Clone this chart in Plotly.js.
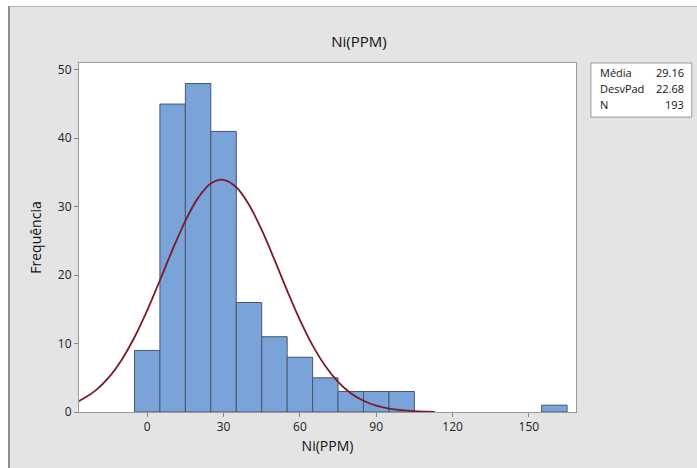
<!DOCTYPE html>
<html>
<head>
<meta charset="utf-8">
<script src="https://cdn.plot.ly/plotly-3.0.1.min.js"></script>
<style>
  html, body { margin: 0; padding: 0; background: #ffffff; width: 697px; height: 468px; overflow: hidden; }
  #frame { position: absolute; left: 8px; top: 6px; width: 687px; height: 462px;
           border-left: 2px solid #8c8c8c; border-top: 1px solid #b4b4b4; background: #e4e4e4; }
  #chart { width: 687px; height: 462px; }
</style>
</head>
<body>
<div id="frame"><div id="chart"></div></div>
<script>
// Histogram bins (bin centres, width 10) and counts
const binCenters = [0, 10, 20, 30, 40, 50, 60, 70, 80, 90, 100, 160];
const counts     = [9, 45, 48, 41, 16, 11, 8, 5, 3, 3, 3, 1];

// Fitted normal curve
const curveX = [-27, -25, -20, -15, -10, -5, 0, 5, 10, 15, 20, 25, 30, 35, 40, 45, 50, 55, 60, 65, 70, 75, 80, 85, 90, 95, 100, 105, 110, 113];
const curveY = [1.58, 1.96, 3.24, 5.10, 7.65, 10.92, 14.85, 19.25, 23.76, 27.94, 31.29, 33.38, 33.93, 32.84, 30.29, 26.60, 22.26, 17.74, 13.47, 9.74, 6.71, 4.40, 2.75, 1.64, 0.93, 0.50, 0.26, 0.13, 0.06, 0.03];

// Summary table
const statLabels = ["Média", "DesvPad", "N"];
const statValues = ["29.16", "22.68", "193"];

const xTicks = [0, 30, 60, 90, 120, 150];
const yTicks = [0, 10, 20, 30, 40, 50];

const FONT = "Open Sans, Noto Sans, sans-serif";

const traces = [
  {
    type: "bar",
    x: binCenters,
    y: counts,
    width: 10,
    marker: { color: "#7aa4d9", line: { color: "#46586c", width: 1 } },
    hoverinfo: "x+y"
  },
  {
    type: "scatter",
    mode: "lines",
    x: curveX,
    y: curveY,
    line: { color: "#7a1c2a", width: 1.8, shape: "spline" },
    hoverinfo: "skip"
  }
];

const annotations = [];
const rowY = [0.972, 0.926, 0.880];
for (let i = 0; i < statLabels.length; i++) {
  annotations.push({
    xref: "paper", yref: "paper", x: 1.044, y: rowY[i],
    xanchor: "left", yanchor: "middle", showarrow: false,
    text: statLabels[i], font: { family: FONT, size: 11, color: "#111" }
  });
  annotations.push({
    xref: "paper", yref: "paper", x: 1.221, y: rowY[i],
    xanchor: "right", yanchor: "middle", showarrow: false,
    text: statValues[i], font: { family: FONT, size: 11, color: "#111" }
  });
}

const layout = {
  width: 687,
  height: 462,
  paper_bgcolor: "#e4e4e4",
  plot_bgcolor: "#ffffff",
  margin: { l: 69, r: 121, t: 56, b: 57 },
  showlegend: false,
  bargap: 0,
  title: {
    text: "Ni(PPM)",
    x: 0.508, xref: "container", xanchor: "center",
    y: 0.925, yref: "container", yanchor: "middle",
    font: { family: FONT, size: 15, color: "#111" }
  },
  font: { family: FONT, color: "#222" },
  xaxis: {
    range: [-26.8, 168.5],
    tickvals: xTicks,
    ticks: "outside", ticklen: 4, tickcolor: "#888",
    showgrid: false, zeroline: false,
    showline: true, linecolor: "#9a9a9a", mirror: true,
    tickfont: { family: FONT, size: 12, color: "#222" },
    title: { text: "Ni(PPM)", font: { family: FONT, size: 14, color: "#111" }, standoff: 6 }
  },
  yaxis: {
    range: [0, 51],
    tickvals: yTicks,
    ticks: "outside", ticklen: 4, tickcolor: "#888",
    showgrid: false, zeroline: false,
    showline: true, linecolor: "#9a9a9a", mirror: true,
    tickfont: { family: FONT, size: 12, color: "#222" },
    title: { text: "Frequência", font: { family: FONT, size: 14, color: "#111" }, standoff: 12 }
  },
  shapes: [
    { type: "rect", xref: "paper", yref: "paper", x0: 1.030, x1: 1.233, y0: 0.845, y1: 1.0,
      fillcolor: "#ffffff", line: { color: "#9a9a9a", width: 1 }, layer: "below" }
  ],
  annotations: annotations
};

Plotly.newPlot("chart", traces, layout, { displayModeBar: false, staticPlot: true });
</script>
</body>
</html>
